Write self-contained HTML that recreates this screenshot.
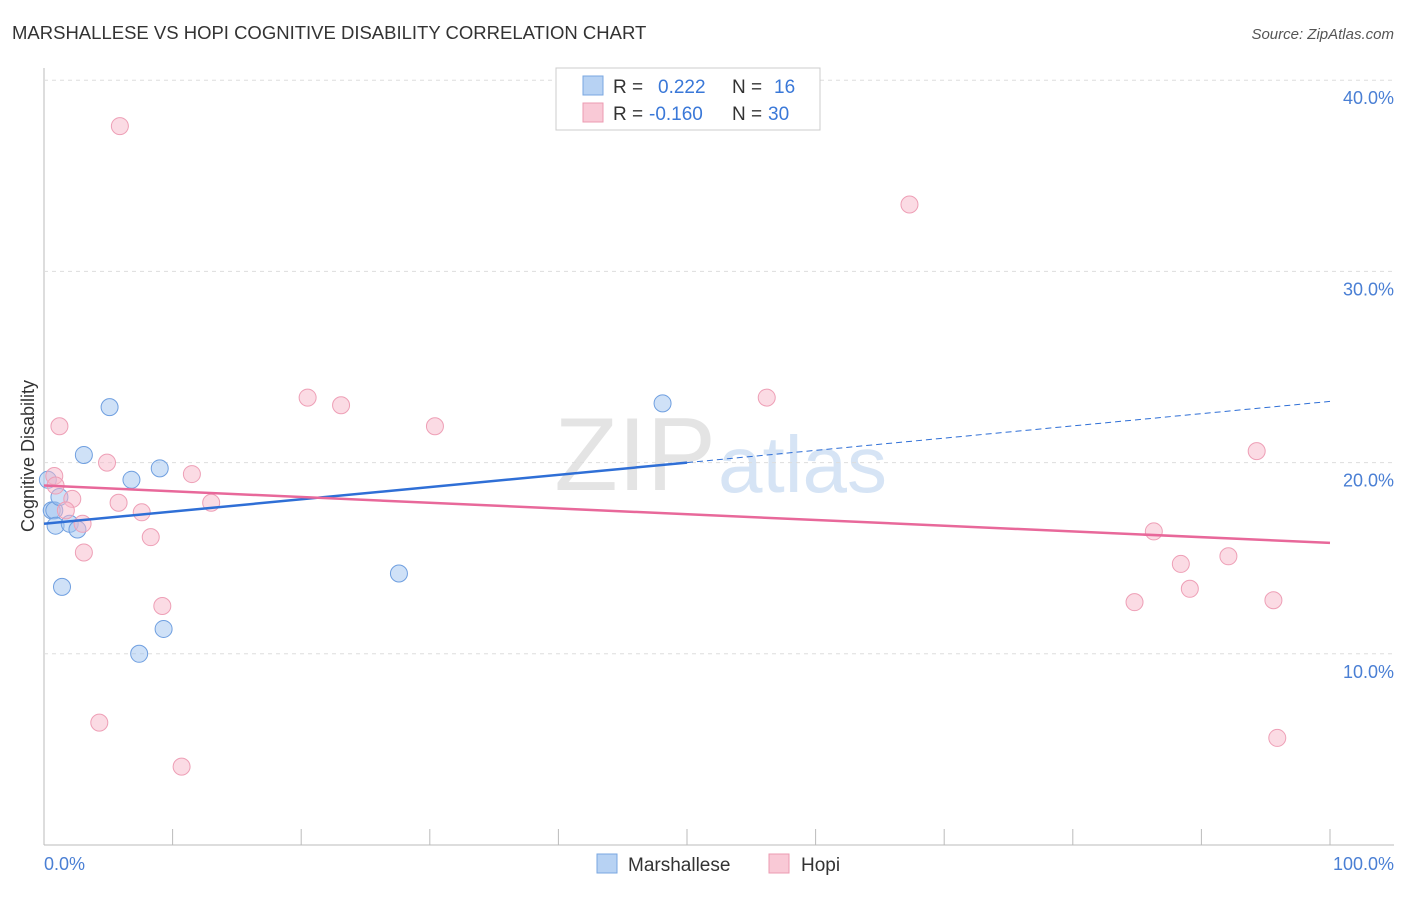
<!DOCTYPE html>
<html><head><meta charset="utf-8"><style>
body{margin:0;background:#fff;font-family:"Liberation Sans",sans-serif;}
svg text{font-family:"Liberation Sans",sans-serif;}
</style></head><body>
<svg id="c" width="1406" height="892">
<text x="12" y="39" font-size="18.5" fill="#333">MARSHALLESE VS HOPI COGNITIVE DISABILITY CORRELATION CHART</text>
<text x="1394" y="39" font-size="15" fill="#555" font-style="italic" text-anchor="end">Source: ZipAtlas.com</text>
<text x="716" y="490" font-size="104" fill="#e4e4e4" text-anchor="end" font-family="Liberation Serif">ZIP</text>
<text x="718" y="492" font-size="80" fill="#d6e4f5">atlas</text>
<g id="grid"></g><g id="pts"></g><g id="lines"></g>
<text transform="translate(34,456) rotate(-90)" font-size="18" fill="#333" text-anchor="middle">Cognitive Disability</text>
<text x="44" y="870" font-size="18" fill="#4a7fd4">0.0%</text>
<text x="1394" y="870" font-size="18" fill="#4a7fd4" text-anchor="end">100.0%</text>
<g>
<rect x="556" y="68" width="264" height="62" fill="#fff" stroke="#ccc"/>
<rect x="583" y="76" width="20" height="19" fill="#b7d2f3" stroke="#7aa7e0"/>
<rect x="583" y="103" width="20" height="19" fill="#f9c9d6" stroke="#ec9bb2"/>
<text x="613" y="93" font-size="19" fill="#333">R = <tspan fill="#3a78d8" x="658">0.222</tspan><tspan x="732" fill="#333">N = </tspan><tspan fill="#3a78d8" x="774">16</tspan></text>
<text x="613" y="120" font-size="19" fill="#333">R = <tspan fill="#3a78d8" x="649">-0.160</tspan><tspan x="732" fill="#333">N = </tspan><tspan fill="#3a78d8" x="768">30</tspan></text>
</g>
<g>
<rect x="597" y="854" width="20" height="19" fill="#b7d2f3" stroke="#7aa7e0"/>
<text x="628" y="871" font-size="19" fill="#333">Marshallese</text>
<rect x="769" y="854" width="20" height="19" fill="#f9c9d6" stroke="#ec9bb2"/>
<text x="801" y="871" font-size="19" fill="#333">Hopi</text>
</g>
</svg>
<script>
const yTicks=[10,20,30,40];
const yTickLabels=["10.0%","20.0%","30.0%","40.0%"];
const blueX=[0.3,0.6,0.8,0.9,1.2,1.4,2.0,2.6,3.1,5.1,6.8,7.4,9.0,9.3,27.6,48.1];
const blueY=[19.1,17.5,17.5,16.7,18.2,13.5,16.8,16.5,20.4,22.9,19.1,10.0,19.7,11.3,14.2,23.1];
const pinkX=[5.9,67.3,1.2,0.8,0.9,2.2,1.7,3.0,3.1,4.9,5.8,7.6,8.3,9.2,11.5,13.0,4.3,10.7,20.5,23.1,30.4,56.2,94.3,86.3,88.4,92.1,84.8,89.1,95.6,95.9];
const pinkY=[37.6,33.5,21.9,19.3,18.8,18.1,17.5,16.8,15.3,20.0,17.9,17.4,16.1,12.5,19.4,17.9,6.4,4.1,23.4,23.0,21.9,23.4,20.6,16.4,14.7,15.1,12.7,13.4,12.8,5.6];
const blueTrend=[16.8,23.2];
const pinkTrend=[18.8,15.8];
const X=v=>44+v*12.86, Y=v=>845-v*19.12;
const NS="http://www.w3.org/2000/svg";
function mk(tag,attrs,parent){const e=document.createElementNS(NS,tag);for(const k in attrs)e.setAttribute(k,attrs[k]);document.getElementById(parent).appendChild(e);return e;}
let ax=mk('line',{x1:44,y1:68,x2:44,y2:845,stroke:'#bbb'},'grid');


let bx=mk('line',{x1:44,y1:845,x2:1394,y2:845,stroke:'#bbb'},'grid');


for(let i=0;i<=10;i++){let t=mk('line',{x1:X(i*10),y1:829,x2:X(i*10),y2:845,stroke:'#bbb'},'grid');

}
yTicks.forEach((v,i)=>{let g=mk('line',{x1:44,y1:Y(v),x2:1394,y2:Y(v),stroke:'#ddd','stroke-dasharray':'4,4'},'grid');


let t=mk('text',{x:1394,y:Y(v)+24,'font-size':18,fill:'#4a7fd4','text-anchor':'end'},'grid');t.textContent=yTickLabels[i];

});
blueX.forEach((x,i)=>{let c=mk('circle',{cx:X(x),cy:Y(blueY[i]),r:8.5,fill:'rgba(160,196,240,0.5)',stroke:'#6f9fe0','stroke-width':1},'pts');

});
pinkX.forEach((x,i)=>{let c=mk('circle',{cx:X(x),cy:Y(pinkY[i]),r:8.5,fill:'rgba(247,184,202,0.5)',stroke:'#ee9fb6','stroke-width':1},'pts');

});
const bAt=x=>blueTrend[0]+(blueTrend[1]-blueTrend[0])*x/100;
let l1=mk('line',{x1:X(0),y1:Y(bAt(0)),x2:X(50),y2:Y(bAt(50)),stroke:'#2f6fd6','stroke-width':2.5},'lines');


let l2=mk('line',{x1:X(50),y1:Y(bAt(50)),x2:X(100),y2:Y(bAt(100)),stroke:'#2f6fd6','stroke-width':1,'stroke-dasharray':'6,4'},'lines');


let l3=mk('line',{x1:X(0),y1:Y(pinkTrend[0]),x2:X(100),y2:Y(pinkTrend[1]),stroke:'#e8689a','stroke-width':2.5},'lines');


</script>
</body></html>
